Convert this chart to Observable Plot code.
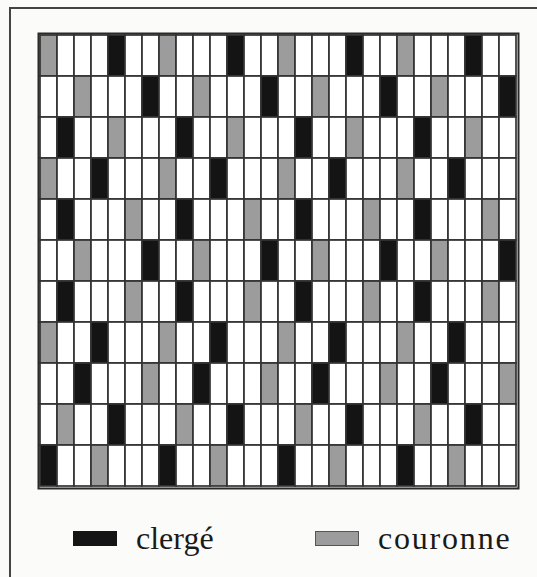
<!DOCTYPE html>
<html>
<head>
<meta charset="utf-8">
<script src="https://cdn.jsdelivr.net/npm/d3@7"></script>
<script src="https://cdn.jsdelivr.net/npm/@observablehq/plot@0.6"></script>
<style>
  html, body { margin: 0; padding: 0; background: #fbfbf9; width: 537px; height: 577px; overflow: hidden; }
  #frame { position: absolute; left: 9px; top: 7px; width: 540px; height: 580px; border: 2px solid #444; box-sizing: border-box; }
  #chart { position: absolute; left: 0; top: 0; }
  .legend { position: absolute; top: 520px; font-family: "Liberation Serif", serif; font-size: 32px; color: #1a1a1a; display: flex; align-items: center; }
  .sw { display: inline-block; width: 44px; height: 15px; margin-right: 19px; }
</style>
</head>
<body>
<div id="frame"></div>
<div id="chart"></div>
<div class="legend" style="left:73px"><span class="sw" style="background:#141414"></span><span>clergé</span></div>
<div class="legend" style="left:315px;letter-spacing:1.8px"><span class="sw" style="background:#9c9c9c;border:1px solid #555;box-sizing:border-box"></span><span>couronne</span></div>
<script>
// Column indices (0-27) per row (top to bottom) of each category
const categories = ["clergé", "couronne"];
const clergeCols = [
  [4, 11, 18, 25],
  [6, 13, 20, 27],
  [1, 8, 15, 22],
  [3, 10, 17, 24],
  [1, 8, 15, 22],
  [6, 13, 20, 27],
  [1, 8, 15, 22],
  [3, 10, 17, 24],
  [2, 9, 16, 23],
  [4, 11, 18, 25],
  [0, 7, 14, 21]
];
const couronneCols = [
  [0, 7, 14, 21],
  [2, 9, 16, 23],
  [4, 11, 18, 25],
  [0, 7, 14, 21],
  [5, 12, 19, 26],
  [2, 9, 16, 23],
  [5, 12, 19, 26],
  [0, 7, 14, 21],
  [6, 13, 20, 27],
  [1, 8, 15, 22],
  [3, 10, 17, 24]
];
const nCols = 28;
const nRows = 11;

const cells = [];
for (let r = 0; r < nRows; r++) {
  for (let c = 0; c < nCols; c++) {
    let cat = "vide";
    if (clergeCols[r].includes(c)) cat = categories[0];
    else if (couronneCols[r].includes(c)) cat = categories[1];
    cells.push({row: r, col: c, cat});
  }
}

const chart = Plot.plot({
  width: 537,
  height: 500,
  marginLeft: 38,
  marginRight: 19,
  marginTop: 33,
  marginBottom: 12,
  x: {type: "band", domain: d3.range(nCols), padding: 0, axis: null},
  y: {type: "band", domain: d3.range(nRows), padding: 0, axis: null},
  color: {domain: ["vide", "clergé", "couronne"], range: ["#ffffff", "#141414", "#9c9c9c"]},
  style: {background: "transparent"},
  marks: [
    Plot.cell(cells, {x: "col", y: "row", fill: "cat", stroke: "#333", strokeWidth: 1.7, inset: 0}),
    Plot.frame({stroke: "#2a2a2a", strokeWidth: 2})
  ]
});
document.getElementById("chart").appendChild(chart);
</script>
</body>
</html>
